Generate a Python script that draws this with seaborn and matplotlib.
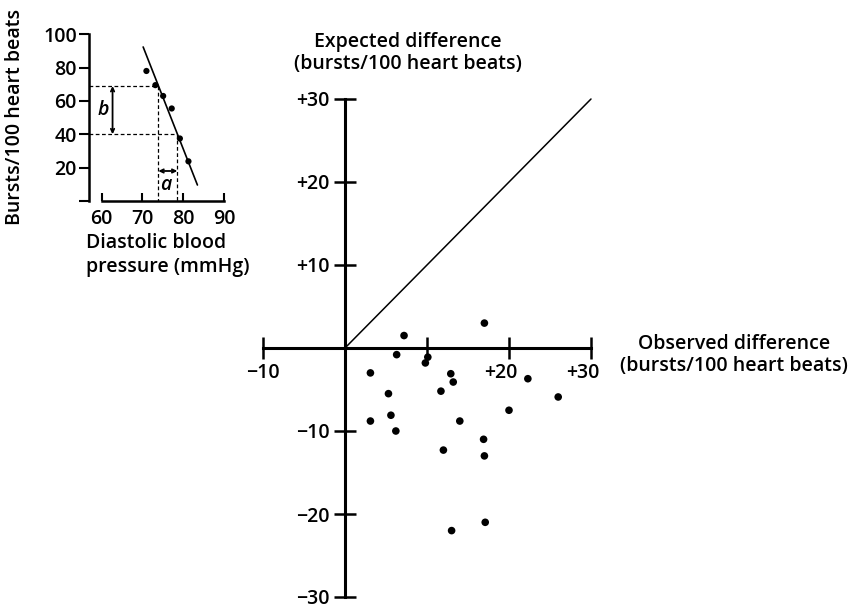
import matplotlib
matplotlib.use("Agg")
import matplotlib.pyplot as plt
import matplotlib.transforms as mtransforms
import seaborn as sns
import pandas as pd

# ---- main panel data ----
observed = [17.0, 7.2, 6.3, 10.1, 9.8, 3.1, 12.9, 13.2, 22.3, 5.3, 11.7,
            26.0, 20.0, 5.6, 3.1, 14.0, 6.2, 16.9, 12.0, 17.0, 17.1, 13.0]
expected = [3.0, 1.5, -0.8, -1.1, -1.8, -3.0, -3.1, -4.1, -3.7, -5.5, -5.2,
            -5.9, -7.5, -8.1, -8.8, -8.8, -10.0, -11.0, -12.3, -13.0, -21.0, -22.0]
identity = [0, 30]
main_xticks = [-10, 10, 20, 30]
main_xlabels = ["\u221210", "", "+20", "+30"]
main_yticks = [-30, -20, -10, 10, 20, 30]
main_ylabels = ["\u221230", "\u221220", "\u221210", "+10", "+20", "+30"]

# ---- inset data ----
dbp = [71.0, 73.2, 75.1, 77.2, 79.2, 81.3]
bursts = [78, 69.5, 63, 55.5, 37.5, 23.8]
fit_x = [70.2, 83.5]
fit_y = [92.4, 9.6]
guide_y = [69, 40]
guide_x = [73.9, 78.6]
inset_xticks = [60, 70, 80, 90]
inset_yticks = [0, 20, 40, 60, 80, 100]
inset_ylabels = ["", "20", "40", "60", "80", "100"]

sns.set_style("white")
plt.rcParams["font.family"] = ["Open Sans", "DejaVu Sans"]
plt.rcParams["font.weight"] = "semibold"
plt.rcParams["text.color"] = "black"
FS = 14

W, H = 852, 604
fig = plt.figure(figsize=(W / 100, H / 100), dpi=100)

def px_axes(l, r, t, b):
    return fig.add_axes([l / W, (H - b) / H, (r - l) / W, (b - t) / H])

# ---------------- main axes ----------------
sx, sy = 8.2, 8.3
L, R, T, B = 250, 600, 90, 604
ax = px_axes(L, R, T, B)
ax.set_xlim(-10 - (263 - L) / sx, 30 + (R - 591) / sx)
ax.set_ylim(-30 - (B - 597) / sy, 30 + (99 - T) / sy)
ax.patch.set_alpha(0)

df = pd.DataFrame({"obs": observed, "exp": expected})
sns.scatterplot(data=df, x="obs", y="exp", ax=ax, color="black", s=30,
                edgecolor="none", clip_on=False)
sns.lineplot(x=identity, y=identity, ax=ax, color="black", lw=1.1)

for s in ["top", "right"]:
    ax.spines[s].set_visible(False)
ax.spines["left"].set_position(("data", 0))
ax.spines["bottom"].set_position(("data", 0))
ax.spines["left"].set_bounds(-30, 30)
ax.spines["bottom"].set_bounds(-10, 30)
for s in ["left", "bottom"]:
    ax.spines[s].set_linewidth(2.2)
    ax.spines[s].set_color("black")
ax.set_xticks(main_xticks)
ax.set_xticklabels(main_xlabels)
ax.set_yticks(main_yticks)
ax.set_yticklabels(main_ylabels)
ax.tick_params(bottom=True, left=True, direction="inout", length=16, width=1.8,
               labelsize=FS, colors="black")
ax.tick_params(axis="x", pad=3)
ax.tick_params(axis="y", pad=3)
ax.set_xlabel("")
ax.set_ylabel("")
# the printed "+20" / "+30" sit slightly left of their ticks
shift = mtransforms.ScaledTranslation(-8 / 100, 0, fig.dpi_scale_trans)
for lab in ax.get_xticklabels()[2:]:
    lab.set_transform(lab.get_transform() + shift)

fig.text(408 / W, 1 - 53 / H, "Expected difference\n(bursts/100 heart beats)",
         ha="center", va="center", fontsize=FS, linespacing=1.08)
fig.text(734 / W, 1 - 355 / H, "Observed difference\n(bursts/100 heart beats)",
         ha="center", va="center", fontsize=FS, linespacing=1.1)

# ---------------- inset axes ----------------
isx, isy = 4.08, 1.667
iL, iR, iT, iB = 89.3, 232, 28, 201
ax2 = px_axes(iL, iR, iT, iB)
ax2.set_xlim(57, 57 + (iR - iL) / isx)
ax2.set_ylim(0, (iB - iT) / isy)
ax2.patch.set_alpha(0)

sns.scatterplot(x=dbp, y=bursts, ax=ax2, color="black", s=20,
                edgecolor="none", clip_on=False)
sns.lineplot(x=fit_x, y=fit_y, ax=ax2, color="black", lw=1.2)
dash = dict(color="black", lw=0.9, ls=(0, (3, 2)))
for gy, gx in zip(guide_y, guide_x):
    ax2.plot([57, gx], [gy, gy], **dash)
    ax2.plot([gx, gx], [gy, 0], **dash)
ax2.annotate("", xy=(62.7, guide_y[1]), xytext=(62.7, guide_y[0]),
             arrowprops=dict(arrowstyle="<->,head_length=0.25,head_width=0.12",
                             color="black", lw=1.3, shrinkA=0, shrinkB=0))
ax2.annotate("", xy=(guide_x[1], 18), xytext=(guide_x[0], 18),
             arrowprops=dict(arrowstyle="<->,head_length=0.25,head_width=0.12",
                             color="black", lw=1.3, shrinkA=0, shrinkB=0))
ax2.text(60.3, 54.5, "b", style="italic", fontsize=FS, ha="center", va="center")
ax2.text(75.8, 9.5, "a", style="italic", fontsize=FS, ha="center", va="center")

for s in ["top", "right"]:
    ax2.spines[s].set_visible(False)
ax2.spines["left"].set_bounds(0, 100)
ax2.spines["bottom"].set_bounds(60, 90)
for s in ["left", "bottom"]:
    ax2.spines[s].set_linewidth(1.8)
    ax2.spines[s].set_color("black")
ax2.set_xticks(inset_xticks)
ax2.set_yticks(inset_yticks)
ax2.set_yticklabels(inset_ylabels)
ax2.tick_params(axis="x", bottom=True, direction="in", length=6, width=1.5,
                labelsize=FS, pad=6, colors="black")
ax2.tick_params(axis="y", left=True, direction="out", length=7, width=1.5,
                labelsize=FS, pad=2, colors="black")

fig.text(15 / W, 1 - 117 / H, "Bursts/100 heart beats", rotation=90,
         ha="center", va="center", fontsize=FS)
fig.text(86 / W, 1 - 255 / H, "Diastolic blood\npressure (mmHg)",
         ha="left", va="center", fontsize=FS, linespacing=1.25)

fig.savefig("out.png", dpi=100)
